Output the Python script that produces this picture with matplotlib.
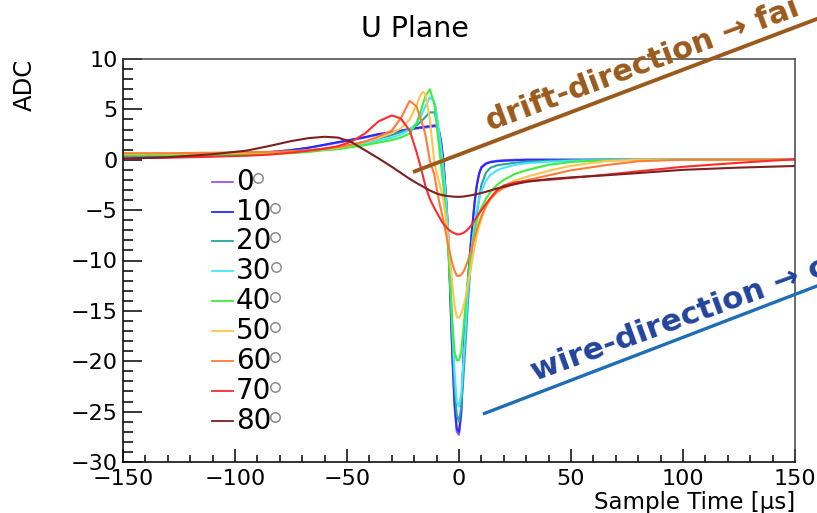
import matplotlib
matplotlib.use("Agg")
import matplotlib.pyplot as plt
from matplotlib.ticker import MultipleLocator

# ── Data ──────────────────────────────────────────────────────────────────────
# sample time grid [us], shared by every track angle
TIME_US = [-150, -130, -110, -95, -85, -75, -67, -60, -54, -48, -42, -36, -30, -26,
           -22, -19, -17, -16, -15, -13, -11, -10,
           -9, -8, -7, -6, -5, -4, -3, -2, -1,
           0, 1, 2, 3, 4, 5, 6, 7, 8, 9, 10,
           12, 14, 17, 20, 25, 30, 40, 50, 65, 80, 100, 125, 150]

ANGLES = [0, 10, 20, 30, 40, 50, 60, 70, 80]

ADC_0 = [0.35, 0.4, 0.5, 0.65, 0.75, 0.95, 1.2, 1.45, 1.7, 1.95, 2.2, 2.5, 2.7, 2.85,
         3.0, 3.1, 3.15, 3.18, 3.2, 3.25, 3.3, 3.3,
         2.9, 1.7, -0.1, -3.0, -6.8, -13.0, -19.5, -24.5, -27.0,
         -27.3, -25.3, -19.8, -15.6, -12.0, -9.0, -6.4, -4.1, -2.4, -1.3, -0.7,
         -0.35, -0.2, -0.1, -0.05, 0.0, 0.0, 0.0, 0.0, 0.0, 0.0, 0.0, 0.0, 0.0]

ADC_10 = [0.35, 0.4, 0.5, 0.65, 0.75, 0.95, 1.2, 1.5, 1.75, 2.0, 2.25, 2.55, 2.75, 2.9,
          3.05, 3.15, 3.22, 3.25, 3.28, 3.34, 3.4, 3.4,
          3.0, 1.8, 0.0, -3.0, -6.5, -12.5, -19.0, -24.0, -26.7,
          -27.0, -25.0, -19.5, -15.5, -12.0, -9.0, -6.5, -4.2, -2.5, -1.4, -0.8,
          -0.4, -0.25, -0.15, -0.1, -0.05, 0.0, 0.0, 0.0, 0.0, 0.0, 0.0, 0.0, 0.0]

ADC_20 = [0.4, 0.45, 0.5, 0.58, 0.65, 0.8, 0.95, 1.1, 1.25, 1.5, 1.8, 2.1, 2.45, 2.75,
          3.05, 3.4, 3.8, 4.0, 4.25, 4.7, 4.7, 4.0,
          2.6, 0.9, -1.0, -3.5, -7.0, -12.0, -17.5, -22.5, -25.3,
          -26.0, -24.5, -21.5, -18.0, -14.2, -11.0, -8.5, -6.8, -5.4, -3.8, -2.5,
          -1.3, -0.8, -0.55, -0.45, -0.3, -0.2, -0.1, -0.05, 0.0, 0.0, 0.0, 0.0, 0.0]

ADC_30 = [0.45, 0.45, 0.5, 0.58, 0.62, 0.7, 0.85, 1.0, 1.12, 1.35, 1.6, 1.9, 2.2, 2.5,
          3.0, 3.6, 4.3, 4.8, 5.3, 6.2, 5.8, 4.6,
          3.0, 1.2, -0.8, -3.3, -6.5, -11.0, -16.5, -21.0, -24.0,
          -24.5, -23.2, -20.0, -16.5, -13.0, -10.2, -8.0, -6.3, -4.9, -3.9, -3.1,
          -2.1, -1.5, -1.05, -0.8, -0.5, -0.35, -0.2, -0.1, -0.05, 0.0, 0.0, 0.0, 0.0]

ADC_40 = [0.45, 0.45, 0.5, 0.55, 0.58, 0.65, 0.78, 0.95, 1.05, 1.25, 1.45, 1.7, 1.95, 2.2,
          2.6, 3.6, 4.9, 5.6, 6.3, 7.0, 5.5, 3.5,
          1.5, -0.5, -2.5, -5.2, -8.5, -12.0, -16.0, -19.0, -19.9,
          -19.9, -19.0, -16.8, -14.2, -11.8, -9.8, -8.2, -7.0, -6.0, -5.3, -4.8,
          -3.9, -3.2, -2.5, -2.0, -1.4, -1.05, -0.5, -0.22, -0.05, 0.0, 0.0, 0.0, 0.0]

ADC_50 = [0.6, 0.6, 0.65, 0.7, 0.72, 0.8, 0.9, 1.05, 1.2, 1.45, 1.75, 2.15, 2.65, 3.1,
          4.0, 5.4, 6.5, 6.75, 6.5, 4.0, -0.3, -1.2,
          -2.1, -3.0, -4.0, -5.5, -7.5, -9.8, -12.3, -14.5, -15.6,
          -15.7, -15.3, -14.6, -13.6, -12.4, -11.1, -9.8, -8.6, -7.5, -6.6, -5.9,
          -4.7, -3.9, -3.1, -2.6, -2.05, -1.7, -1.1, -0.6, -0.15, 0.0, 0.0, 0.0, 0.0]

ADC_60 = [0.65, 0.65, 0.7, 0.75, 0.78, 0.85, 0.95, 1.1, 1.25, 1.5, 1.8, 2.3, 2.9, 4.1,
          5.85, 5.3, 4.0, 3.3, 2.5, -0.1, -1.5, -2.8,
          -4.0, -5.0, -6.0, -7.1, -8.3, -9.3, -10.3, -11.0, -11.5,
          -11.55, -11.4, -11.1, -10.6, -10.0, -9.3, -8.5, -7.7, -6.9, -6.2, -5.6,
          -4.6, -3.9, -3.2, -2.8, -2.35, -2.05, -1.55, -1.05, -0.55, -0.15, 0.0, 0.0, 0.0]

ADC_70 = [0.15, 0.2, 0.3, 0.4, 0.5, 0.7, 0.9, 1.1, 1.35, 1.8, 2.6, 3.8, 4.4, 4.1,
          2.9, 0.8, -0.8, -1.7, -2.6, -3.9, -4.8, -5.2,
          -5.6, -6.0, -6.35, -6.6, -6.85, -7.05, -7.2, -7.3, -7.4,
          -7.4, -7.35, -7.25, -7.1, -6.9, -6.65, -6.35, -6.0, -5.65, -5.3, -5.0,
          -4.4, -3.8, -3.0, -2.55, -2.25, -2.1, -2.0, -1.8, -1.5, -1.15, -0.7, -0.3, 0.05]

ADC_80 = [0.1, 0.25, 0.55, 0.9, 1.35, 1.85, 2.15, 2.28, 2.2, 1.75, 0.95, 0.15, -0.7, -1.3,
          -1.9, -2.3, -2.55, -2.68, -2.8, -3.05, -3.25, -3.35,
          -3.42, -3.48, -3.53, -3.57, -3.6, -3.63, -3.65, -3.67, -3.68,
          -3.68, -3.67, -3.65, -3.62, -3.58, -3.54, -3.5, -3.45, -3.4, -3.35, -3.3,
          -3.18, -3.05, -2.85, -2.68, -2.42, -2.2, -1.92, -1.75, -1.55, -1.32, -1.0, -0.78, -0.62]

ANGLE_COLORS = ["#9457ff", "#2a2aff", "#2aa3a3", "#45e4ff", "#3eee3e",
                "#ffc44f", "#ff7d33", "#ff2b2b", "#7c2020"]

# ── Figure ────────────────────────────────────────────────────────────────────
W, H = 817, 513
fig = plt.figure(figsize=(W / 100, H / 100), dpi=100)
ax = fig.add_axes([123 / W, 1 - 462 / H, 672 / W, 403 / H])

series = [ADC_0, ADC_10, ADC_20, ADC_30, ADC_40, ADC_50, ADC_60, ADC_70, ADC_80]
for adc, color in zip(series, ANGLE_COLORS):
    ax.plot(TIME_US, adc, color=color, lw=1.5, solid_joinstyle="round")

ax.set_xlim(-150, 150)
ax.set_ylim(-30, 10)
ax.xaxis.set_major_locator(MultipleLocator(50))
ax.xaxis.set_minor_locator(MultipleLocator(10))
ax.yaxis.set_major_locator(MultipleLocator(5))
ax.yaxis.set_minor_locator(MultipleLocator(1))
ax.tick_params(which="both", direction="in", top=False, right=False,
               colors="black", labelsize=16, width=1.1)
ax.tick_params(axis="x", which="major", length=9.5, pad=5)
ax.tick_params(axis="x", which="minor", length=5)
ax.tick_params(axis="y", which="major", length=13.5, pad=4)
ax.tick_params(axis="y", which="minor", length=7)
for side in ("left", "bottom"):
    ax.spines[side].set_linewidth(1.2)
    ax.spines[side].set_color("#111111")
for side in ("top", "right"):
    ax.spines[side].set_linewidth(1.1)
    ax.spines[side].set_color("#444444")

fig.suptitle("U Plane", x=415 / W, y=1 - 15 / H, va="top", fontsize=20.5)
ax.set_ylabel("ADC", loc="top", fontsize=17.5)
ax.yaxis.set_label_coords(-0.128, 1.0)
ax.set_xlabel("Sample Time [μs]", loc="right", fontsize=16.5)
ax.xaxis.set_label_coords(1.0, -0.071)

# ── Legend (drawn by hand, degree marks as small grey rings) ──────────────────
renderer = fig.canvas.get_renderer()
to_ax = ax.transAxes.inverted()
row0, row_step = 181.7, 29.875
for i, (angle, color) in enumerate(zip(ANGLES, ANGLE_COLORS)):
    y_line = row0 + row_step * i
    ya = (462 - y_line) / 403
    ax.plot([(212 - 123) / 672, (233 - 123) / 672], [ya, ya],
            transform=ax.transAxes, color=color, lw=1.3, clip_on=False)
    txt = ax.text((236 - 123) / 672, (462 - (y_line + 8)) / 403, str(angle),
                  transform=ax.transAxes, fontsize=20, va="baseline", ha="left")
    bb = txt.get_window_extent(renderer)
    x_ring = to_ax.transform((bb.x1 + 4, 0))[0]
    ax.plot([x_ring], [(462 - (y_line - 4)) / 403], transform=ax.transAxes,
            marker="o", ms=6.8, mfc="none", mec="#8c8c8c", mew=1.1,
            clip_on=False)

# ── Direction annotations ─────────────────────────────────────────────────────
def fx(x):
    return x / W


def fy(y):
    return 1 - y / H


fig.add_artist(plt.Line2D([fx(413), fx(830)], [fy(172), fy(14)],
                          color="#9b5a1c", lw=2.8, solid_capstyle="butt"))
fig.text(fx(490), fy(131), "drift-direction → fai", rotation=20.5,
         rotation_mode="anchor", ha="left", va="baseline",
         fontsize=22, fontweight="bold", color="#9b5a1c")

fig.add_artist(plt.Line2D([fx(483), fx(830)], [fy(414), fy(281)],
                          color="#1f6db5", lw=2.4, solid_capstyle="butt"))
fig.text(fx(535), fy(381), "wire-direction → c", rotation=20,
         rotation_mode="anchor", ha="left", va="baseline",
         fontsize=22.5, fontweight="bold", color="#22449b")

fig.savefig("out.png", dpi=100)
